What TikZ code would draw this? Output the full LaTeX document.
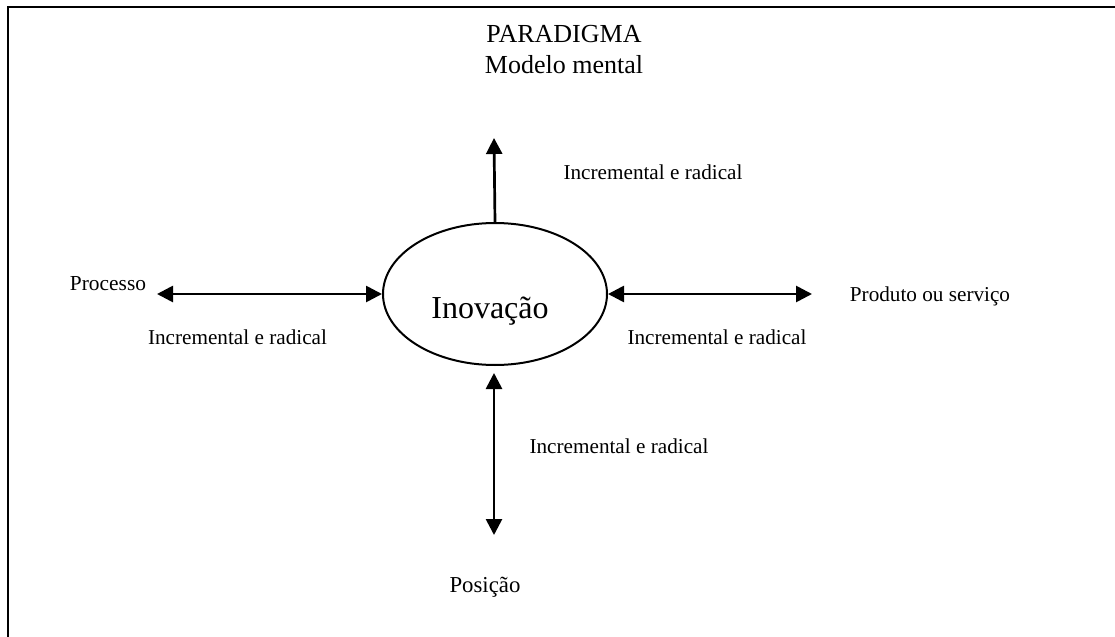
\documentclass[tikz,border=0pt]{standalone}
\usepackage{fontspec}
\setmainfont{Liberation Serif}
\usetikzlibrary{arrows.meta,shapes.geometric}
\begin{document}
\begin{tikzpicture}[x=0.5pt,y=-0.5pt,
  lbl/.style={anchor=base,inner sep=0pt,font=\fontsize{#1}{#1}\selectfont},
  conn/.style={line width=1.35pt,{Triangle[length=8pt,width=8pt]}-{Triangle[length=8pt,width=8pt]}},
  oneway/.style={line width=1.35pt,-{Triangle[length=8pt,width=8pt]}}]
\useasboundingbox (0,0) rectangle (1115,637);
\draw[line width=1pt] (8,637) -- (8,7) -- (1115,7);
\node[lbl=13] (t1) at (564,42) {PARADIGMA};
\node[lbl=13] (t2) at (564,73) {Modelo mental};
\node[draw,ellipse,line width=1pt,minimum width=112pt,minimum height=71pt,inner sep=0pt] (ino) at (495,294) {};
\node[lbl=16] (inot) at (490,318) {Inovação};
\coordinate (up) at (494,138);
\coordinate (lf) at (157,294);
\coordinate (rt) at (812,294);
\coordinate (dn) at (494,535);
\coordinate (dntop) at (494,373);
\draw[oneway] (ino.north) -- (up);
\draw[conn] (lf) -- (ino.west);
\draw[conn] (ino.east) -- (rt);
\draw[conn] (dntop) -- (dn);
\node[lbl=10.6] (l1) at (653,179) {Incremental e radical};
\node[lbl=10.6] (l2) at (237.5,344) {Incremental e radical};
\node[lbl=10.6] (l3) at (717,344) {Incremental e radical};
\node[lbl=10.6] (l4) at (619,453) {Incremental e radical};
\node[lbl=10.6] (p1) at (930,301) {Produto ou serviço};
\node[lbl=10.7] (p2) at (108,290) {Processo};
\node[lbl=11.4] (p3) at (485,592) {Posição};
\end{tikzpicture}
\end{document}
